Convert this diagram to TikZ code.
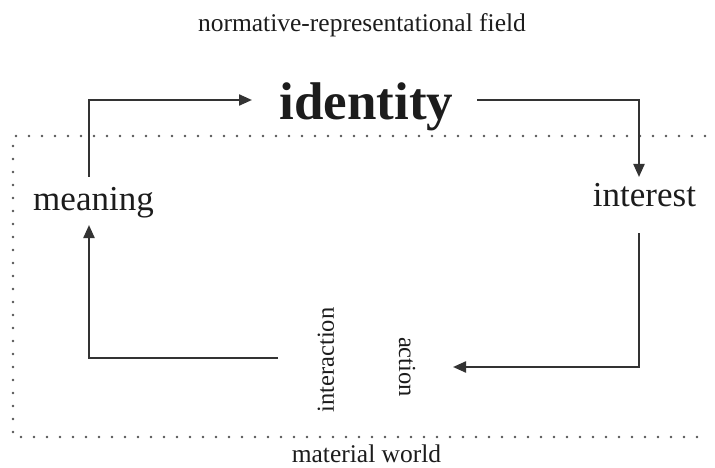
\documentclass[tikz,border=0pt]{standalone}
\usepackage{fontspec}
\setmainfont{Liberation Serif}
\usetikzlibrary{arrows.meta}
\definecolor{txt}{HTML}{1C1C1C}
\definecolor{ln}{HTML}{333333}
\definecolor{dotc}{HTML}{555555}
\tikzset{
  lbl/.style={inner sep=0pt, text=txt, anchor=base, font=\fontsize{25.5}{30}\selectfont},
  mid/.style={inner sep=0pt, text=txt, anchor=base, font=\fontsize{35}{40}\selectfont},
  big/.style={inner sep=0pt, text=txt, anchor=base, font=\fontsize{53}{60}\selectfont\bfseries},
  rot/.style={inner sep=0pt, text=txt, anchor=center, font=\fontsize{24.5}{28}\selectfont},
  arr/.style={draw=ln, line width=2.2pt, -{Triangle[length=13pt,width=11pt]}},
  dots/.style={draw=dotc, line width=2.8pt, line cap=round, dash pattern=on 0pt off 13pt}
}
\begin{document}
\begin{tikzpicture}[x=1pt,y=-1pt]
\useasboundingbox (0,0) rectangle (715,468);
% dotted frame
\draw[dots] (705,136) -- (13,136) -- (13,437) -- (705,437);
% texts
\node[lbl] (field) at (362,32) {normative-representational field};
\node[big] (identity) at (366.5,120) {identity};
\node[mid] (meaning) at (93.5,210) {meaning};
\node[mid] (interest) at (644.5,207) {interest};
\node[rot, rotate=90] (interaction) at (326,360) {interaction};
\node[rot, rotate=-90] (action) at (407,367) {action};
\node[lbl] (world) at (366.5,462) {material world};
% connector end points
\coordinate (mtop) at (89,177);
\coordinate (idin) at (252,100);
\coordinate (idout) at (477,100);
\coordinate (intin) at (639,177);
\coordinate (intout) at (639,233);
\coordinate (actin) at (453,367);
\coordinate (iaout) at (278,358);
\coordinate (mbot) at (89,225);
% connectors
\draw[arr] (mtop) |- (idin);
\draw[arr] (idout) -| (intin);
\draw[arr] (intout) |- (actin);
\draw[arr] (iaout) -| (mbot);
\end{tikzpicture}
\end{document}
